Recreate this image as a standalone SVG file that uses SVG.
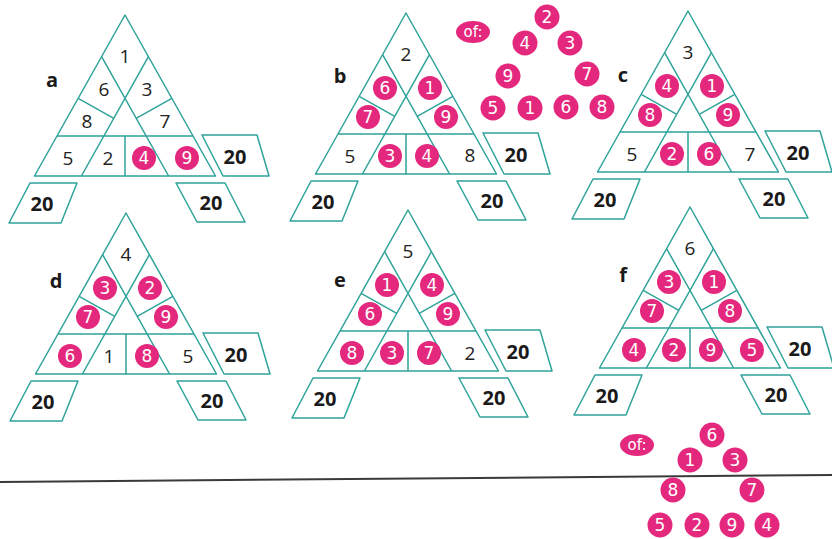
<svg xmlns="http://www.w3.org/2000/svg" xmlns:xlink="http://www.w3.org/1999/xlink" width="832" height="539" viewBox="0 0 832 539">
<style>
.ln{fill:none;stroke:#2fa39a;stroke-width:1.5;stroke-linejoin:round}
.n{font-family:"Open Sans","Noto Sans",sans-serif;font-size:19px;fill:#222;text-anchor:middle}
.s{font-family:"Open Sans","Noto Sans",sans-serif;font-size:20px;font-weight:bold;fill:#1a1a1a;text-anchor:middle}
.lab{font-family:"Open Sans","Noto Sans",sans-serif;font-size:20px;font-weight:bold;fill:#1a1a1a;text-anchor:middle}
.pc{fill:#e3287d}
.pt{font-family:"DejaVu Sans","Noto Sans",sans-serif;font-size:17px;fill:#fff;text-anchor:middle}
.of{font-family:"DejaVu Sans","Noto Sans",sans-serif;font-size:15px;fill:#fff;text-anchor:middle}
</style>
<defs>
<g id="frame" class="ln">
<path d="M0,0 L-90.5,161 L90.5,161 Z"/>
<path d="M23.4,41.7 L-43.6,161 M-23.4,41.7 L43.6,161 M-68,121 H68 M0,121 V161 M-46.8,83.3 L-11.2,103.3 M46.8,83.3 L11.2,103.3"/>
<path d="M77,120 H132 L144,161 H98 Z"/>
<path d="M-95,168 H-48 L-64,208 H-116 Z"/>
<path d="M51,168 H100 L120,207 H72 Z"/>
</g>
<g id="sums">
<text class="s" x="110" y="149">20</text>
<text class="s" x="-83" y="196">20</text>
<text class="s" x="86" y="195">20</text>
</g>
</defs>

<g id="tri-a" transform="translate(125,15)">
<use href="#frame"/><use href="#sums"/>
<text class="lab" x="-73" y="72">a</text>
<text class="n" x="0" y="48">1</text>
<text class="n" x="-21" y="81">6</text>
<text class="n" x="22" y="81">3</text>
<text class="n" x="-38" y="113">8</text>
<text class="n" x="40" y="113">7</text>
<text class="n" x="-57" y="150">5</text>
<text class="n" x="-17" y="150">2</text>
<circle class="pc" cx="19" cy="143" r="12"/><text class="pt" x="19" y="149">4</text>
<circle class="pc" cx="62" cy="143" r="12"/><text class="pt" x="62" y="149">9</text>
</g>

<g id="tri-b" transform="translate(406,13)">
<use href="#frame"/><use href="#sums"/>
<text class="lab" x="-66" y="70">b</text>
<text class="n" x="0" y="48">2</text>
<circle class="pc" cx="-21" cy="75" r="12"/><text class="pt" x="-21" y="81">6</text>
<circle class="pc" cx="24" cy="75" r="12"/><text class="pt" x="24" y="81">1</text>
<circle class="pc" cx="-38" cy="104" r="12"/><text class="pt" x="-38" y="110">7</text>
<circle class="pc" cx="40" cy="104" r="12"/><text class="pt" x="40" y="110">9</text>
<text class="n" x="-56" y="150">5</text>
<circle class="pc" cx="-16" cy="143" r="12"/><text class="pt" x="-16" y="149">3</text>
<circle class="pc" cx="21" cy="143" r="12"/><text class="pt" x="21" y="149">4</text>
<text class="n" x="64" y="149">8</text>
</g>

<g id="tri-c" transform="translate(688,11)">
<use href="#frame"/><use href="#sums"/>
<text class="lab" x="-65" y="71">c</text>
<text class="n" x="0" y="48">3</text>
<circle class="pc" cx="-21" cy="75" r="12"/><text class="pt" x="-21" y="81">4</text>
<circle class="pc" cx="24" cy="75" r="12"/><text class="pt" x="24" y="81">1</text>
<circle class="pc" cx="-38" cy="104" r="12"/><text class="pt" x="-38" y="110">8</text>
<circle class="pc" cx="40" cy="104" r="12"/><text class="pt" x="40" y="110">9</text>
<text class="n" x="-56" y="150">5</text>
<circle class="pc" cx="-16" cy="143" r="12"/><text class="pt" x="-16" y="149">2</text>
<circle class="pc" cx="21" cy="143" r="12"/><text class="pt" x="21" y="149">6</text>
<text class="n" x="62" y="150">7</text>
</g>

<g id="tri-d" transform="translate(126,213)">
<use href="#frame"/><use href="#sums"/>
<text class="lab" x="-70" y="75">d</text>
<text class="n" x="0" y="48">4</text>
<circle class="pc" cx="-21" cy="75" r="12"/><text class="pt" x="-21" y="81">3</text>
<circle class="pc" cx="24" cy="75" r="12"/><text class="pt" x="24" y="81">2</text>
<circle class="pc" cx="-38" cy="104" r="12"/><text class="pt" x="-38" y="110">7</text>
<circle class="pc" cx="40" cy="104" r="12"/><text class="pt" x="40" y="110">9</text>
<circle class="pc" cx="-56" cy="143" r="12"/><text class="pt" x="-56" y="149">6</text>
<text class="n" x="-17" y="150">1</text>
<circle class="pc" cx="21" cy="143" r="12"/><text class="pt" x="21" y="149">8</text>
<text class="n" x="62" y="150">5</text>
</g>

<g id="tri-e" transform="translate(408,210)">
<use href="#frame"/><use href="#sums"/>
<text class="lab" x="-68" y="77">e</text>
<text class="n" x="0" y="48">5</text>
<circle class="pc" cx="-21" cy="75" r="12"/><text class="pt" x="-21" y="81">1</text>
<circle class="pc" cx="24" cy="75" r="12"/><text class="pt" x="24" y="81">4</text>
<circle class="pc" cx="-38" cy="104" r="12"/><text class="pt" x="-38" y="110">6</text>
<circle class="pc" cx="40" cy="104" r="12"/><text class="pt" x="40" y="110">9</text>
<circle class="pc" cx="-56" cy="143" r="12"/><text class="pt" x="-56" y="149">8</text>
<circle class="pc" cx="-16" cy="143" r="12"/><text class="pt" x="-16" y="149">3</text>
<circle class="pc" cx="21" cy="143" r="12"/><text class="pt" x="21" y="149">7</text>
<text class="n" x="62" y="150">2</text>
</g>

<g id="tri-f" transform="translate(690,207)">
<use href="#frame"/><use href="#sums"/>
<text class="lab" x="-67" y="75">f</text>
<text class="n" x="0" y="48">6</text>
<circle class="pc" cx="-21" cy="75" r="12"/><text class="pt" x="-21" y="81">3</text>
<circle class="pc" cx="24" cy="75" r="12"/><text class="pt" x="24" y="81">1</text>
<circle class="pc" cx="-38" cy="104" r="12"/><text class="pt" x="-38" y="110">7</text>
<circle class="pc" cx="40" cy="104" r="12"/><text class="pt" x="40" y="110">8</text>
<circle class="pc" cx="-56" cy="143" r="12"/><text class="pt" x="-56" y="149">4</text>
<circle class="pc" cx="-16" cy="143" r="12"/><text class="pt" x="-16" y="149">2</text>
<circle class="pc" cx="21" cy="143" r="12"/><text class="pt" x="21" y="149">9</text>
<circle class="pc" cx="62" cy="143" r="12"/><text class="pt" x="62" y="149">5</text>
</g>

<g id="answer-1">
<ellipse class="pc" cx="473" cy="32" rx="17" ry="11"/><text class="of" x="473" y="37">of:</text>
<circle class="pc" cx="547" cy="17" r="12.5"/><text class="pt" x="547" y="23">2</text>
<circle class="pc" cx="525" cy="43" r="12.5"/><text class="pt" x="525" y="49">4</text>
<circle class="pc" cx="570" cy="43" r="12.5"/><text class="pt" x="570" y="49">3</text>
<circle class="pc" cx="508" cy="76" r="12.5"/><text class="pt" x="508" y="82">9</text>
<circle class="pc" cx="587" cy="74" r="12.5"/><text class="pt" x="587" y="80">7</text>
<circle class="pc" cx="493" cy="108" r="12.5"/><text class="pt" x="493" y="114">5</text>
<circle class="pc" cx="530" cy="108" r="12.5"/><text class="pt" x="530" y="114">1</text>
<circle class="pc" cx="566" cy="107" r="12.5"/><text class="pt" x="566" y="113">6</text>
<circle class="pc" cx="602" cy="107" r="12.5"/><text class="pt" x="602" y="113">8</text>
</g>

<line x1="0" y1="482" x2="832" y2="475" stroke="#3a3a3a" stroke-width="2"/>

<g id="answer-2">
<ellipse class="pc" cx="637" cy="445" rx="17" ry="11"/><text class="of" x="637" y="450">of:</text>
<circle class="pc" cx="712" cy="435" r="12.5"/><text class="pt" x="712" y="441">6</text>
<circle class="pc" cx="690" cy="460" r="12.5"/><text class="pt" x="690" y="466">1</text>
<circle class="pc" cx="735" cy="460" r="12.5"/><text class="pt" x="735" y="466">3</text>
<circle class="pc" cx="673" cy="490" r="12.5"/><text class="pt" x="673" y="496">8</text>
<circle class="pc" cx="752" cy="490" r="12.5"/><text class="pt" x="752" y="496">7</text>
<circle class="pc" cx="660" cy="525" r="12.5"/><text class="pt" x="660" y="531">5</text>
<circle class="pc" cx="697" cy="525" r="12.5"/><text class="pt" x="697" y="531">2</text>
<circle class="pc" cx="732" cy="525" r="12.5"/><text class="pt" x="732" y="531">9</text>
<circle class="pc" cx="767" cy="525" r="12.5"/><text class="pt" x="767" y="531">4</text>
</g>
</svg>
